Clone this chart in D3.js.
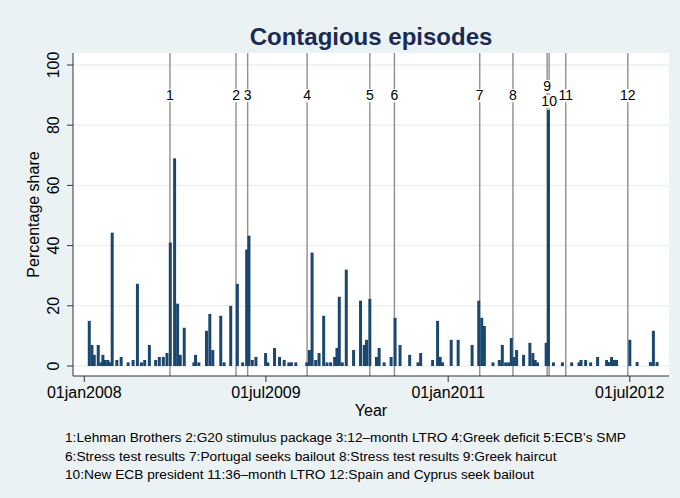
<!DOCTYPE html>
<html>
<head>
<meta charset="utf-8">
<script src="https://cdn.jsdelivr.net/npm/d3@7"></script>
<style>
  html, body { margin: 0; padding: 0; background: #eaf2f3; }
  svg { display: block; font-family: "Liberation Sans", Arial, Helvetica, sans-serif; }
</style>
</head>
<body>
<svg id="chart" width="680" height="498"></svg>
<script>
// ---- Data ----
// Days after 01jan2008 at which each bar sits
const dayOffset = [15, 23, 30, 42, 50, 56, 63, 71, 76, 84, 98, 111, 132, 147, 160, 172, 182, 196,
  215, 226, 238, 249, 259, 272, 281, 289, 301, 330, 335, 345, 368, 378, 387, 411, 421, 441, 461,
  477, 489, 496, 506, 517, 546, 553, 573, 588, 602, 616, 624, 637, 670, 678, 686, 697, 707, 721,
  731, 742, 754, 761, 768, 777, 789, 811, 832, 843, 850, 860, 880, 888, 903, 924, 936, 951, 980,
  1005, 1013, 1049, 1064, 1072, 1079, 1105, 1126, 1168, 1188, 1197, 1205, 1231, 1250, 1259, 1269,
  1278, 1286, 1294, 1302, 1323, 1342, 1351, 1358, 1365, 1391, 1398, 1413, 1440, 1468, 1490, 1496,
  1510, 1525, 1546, 1573, 1580, 1588, 1595, 1603, 1643, 1665, 1705, 1714, 1725];
// Percentage share of contagious episodes
const share = [15, 7, 3.7, 7, 1.2, 3.7, 2, 2, 1.2, 44.3, 2, 3, 1.2, 2, 27.3, 1.2, 2, 7,
  2, 3, 3, 4.3, 41, 69, 20.7, 3.7, 12.7, 1.2, 3.7, 1.2, 11.7, 17.3, 5.3, 16.7, 1.2, 20, 27.3,
  1.2, 38.7, 43.3, 2, 3, 4.3, 1.2, 6, 3, 2, 1.2, 1.2, 1.2, 1.2, 5.3, 37.7, 2, 4.3, 16.7,
  1.2, 1.2, 3, 6, 23, 1.2, 32, 5.3, 21.7, 7, 8.7, 22.3, 3, 6, 1.2, 3, 16, 7, 3.7,
  1.2, 4.3, 2, 15, 3, 1.2, 8.7, 8.7, 7, 21.7, 16, 13.3, 1.2, 2, 7, 1.2,
  1.2, 9.3, 3, 5.3, 3.7, 7.7, 4.3, 2, 1.2, 7.7, 85, 1.2, 1.2, 1.2, 1.2, 2,
  2, 1.2, 3, 2, 1.3, 3, 2, 2, 8.7, 1.3, 1.3, 11.7, 1.3];

// Event markers
const eventLabels = ["1", "2", "3", "4", "5", "6", "7", "8", "9", "10", "11", "12"];
const eventDates = ["2008-09-15", "2009-04-02", "2009-05-07", "2009-11-02", "2010-05-10", "2010-07-23",
  "2011-04-06", "2011-07-15", "2011-10-26", "2011-11-01", "2011-12-21", "2012-06-25"];
const eventLabelValue = [90, 90, 90, 90, 90, 90, 90, 90, 93, 88, 90, 90];

// Axis ticks
const yTicks = [0, 20, 40, 60, 80, 100];
const xTickDates = ["2008-01-01", "2009-07-01", "2011-01-01", "2012-07-01"];

const title = "Contagious episodes";
const yTitle = "Percentage share";
const xTitle = "Year";
const noteLines = [
  "1:Lehman Brothers 2:G20 stimulus package 3:12\u2013month LTRO 4:Greek deficit 5:ECB\u2019s SMP",
  "6:Stress test results 7:Portugal seeks bailout 8:Stress test results 9:Greek haircut",
  "10:New ECB president 11:36\u2013month LTRO 12:Spain and Cyprus seek bailout"
];

// ---- Drawing ----
const parse = d3.timeParse("%Y-%m-%d");
const base = new Date(2008, 0, 1);
const bars = dayOffset.map((d, i) => ({ date: d3.timeDay.offset(base, d), v: share[i] }));
const events = eventLabels.map((l, i) => ({ label: l, date: parse(eventDates[i]), lv: eventLabelValue[i] }));

const svg = d3.select("#chart");
const W = 680, H = 498;
const plot = { left: 73, right: 669, top: 53, bottom: 376 };

svg.append("rect").attr("width", W).attr("height", H).attr("fill", "#eaf2f3");
svg.append("rect").attr("x", plot.left).attr("y", plot.top)
  .attr("width", plot.right - plot.left).attr("height", plot.bottom - plot.top).attr("fill", "#ffffff");

const x = d3.scaleTime()
  .domain([new Date(2007, 10, 28), new Date(2012, 9, 27)])
  .range([plot.left, plot.right]);
const y = d3.scaleLinear().domain([0, 100]).range([366, 65]);

// gridlines
svg.append("g").selectAll("line").data(yTicks).join("line")
  .attr("x1", plot.left).attr("x2", plot.right)
  .attr("y1", d => y(d)).attr("y2", d => y(d))
  .attr("stroke", "#eaf2f3").attr("stroke-width", 1.5);

// event lines
svg.append("g").selectAll("line").data(events).join("line")
  .attr("x1", d => x(d.date)).attr("x2", d => x(d.date))
  .attr("y1", plot.top).attr("y2", plot.bottom)
  .attr("stroke", "#8f8f8f").attr("stroke-width", 1.4);

// bars
const barW = x(d3.timeDay.offset(base, 9)) - x(base);
svg.append("g").selectAll("rect").data(bars).join("rect")
  .attr("x", d => x(d.date) - barW / 2)
  .attr("width", barW)
  .attr("y", d => y(d.v))
  .attr("height", d => y(0) - y(d.v))
  .attr("fill", "#1a476f");

// event labels with white background
const lg = svg.append("g");
events.forEach(e => {
  const t = lg.append("text")
    .attr("x", x(e.date)).attr("y", y(e.lv))
    .attr("text-anchor", "middle").attr("dominant-baseline", "central")
    .attr("font-size", 14).attr("fill", "#000")
    .text(e.label);
  const bb = t.node().getBBox();
  lg.insert("rect", () => t.node())
    .attr("x", bb.x).attr("y", bb.y + 2).attr("width", bb.width).attr("height", bb.height - 3)
    .attr("fill", "#ffffff");
});

// axes lines
svg.append("line").attr("x1", plot.left).attr("x2", plot.left)
  .attr("y1", plot.top).attr("y2", plot.bottom).attr("stroke", "#333").attr("stroke-width", 1);
svg.append("line").attr("x1", plot.left).attr("x2", plot.right)
  .attr("y1", plot.bottom).attr("y2", plot.bottom).attr("stroke", "#333").attr("stroke-width", 1);

// y axis ticks & labels
const yg = svg.append("g");
yg.selectAll("line").data(yTicks).join("line")
  .attr("x1", plot.left - 6).attr("x2", plot.left)
  .attr("y1", d => y(d)).attr("y2", d => y(d))
  .attr("stroke", "#333");
yg.selectAll("text").data(yTicks).join("text")
  .attr("transform", d => `translate(59,${y(d)}) rotate(-90)`)
  .attr("text-anchor", "middle")
  .attr("font-size", 16).attr("fill", "#000")
  .text(d => d);

// x axis ticks & labels
const xt = xTickDates.map(parse);
const fmt = d3.timeFormat("%d%b%Y");
const xg = svg.append("g");
xg.selectAll("line").data(xt).join("line")
  .attr("x1", d => x(d)).attr("x2", d => x(d))
  .attr("y1", plot.bottom).attr("y2", plot.bottom + 6)
  .attr("stroke", "#333");
xg.selectAll("text").data(xt).join("text")
  .attr("x", d => x(d)).attr("y", 398)
  .attr("text-anchor", "middle")
  .attr("font-size", 16).attr("fill", "#000")
  .text(d => fmt(d).toLowerCase());

// titles
svg.append("text").attr("x", (plot.left + plot.right) / 2).attr("y", 45)
  .attr("text-anchor", "middle").attr("font-size", 24).attr("font-weight", "bold")
  .attr("fill", "#1a2a55").text(title);
svg.append("text").attr("transform", `translate(39,${(plot.top + plot.bottom) / 2}) rotate(-90)`)
  .attr("text-anchor", "middle").attr("font-size", 16).attr("fill", "#000").text(yTitle);
svg.append("text").attr("x", (plot.left + plot.right) / 2).attr("y", 416)
  .attr("text-anchor", "middle").attr("font-size", 16).attr("fill", "#000").text(xTitle);

// note
svg.append("g").selectAll("text").data(noteLines).join("text")
  .attr("x", 65).attr("y", (d, i) => 442 + i * 18.5)
  .attr("font-size", 13.7).attr("fill", "#000")
  .text(d => d);
</script>
</body>
</html>
